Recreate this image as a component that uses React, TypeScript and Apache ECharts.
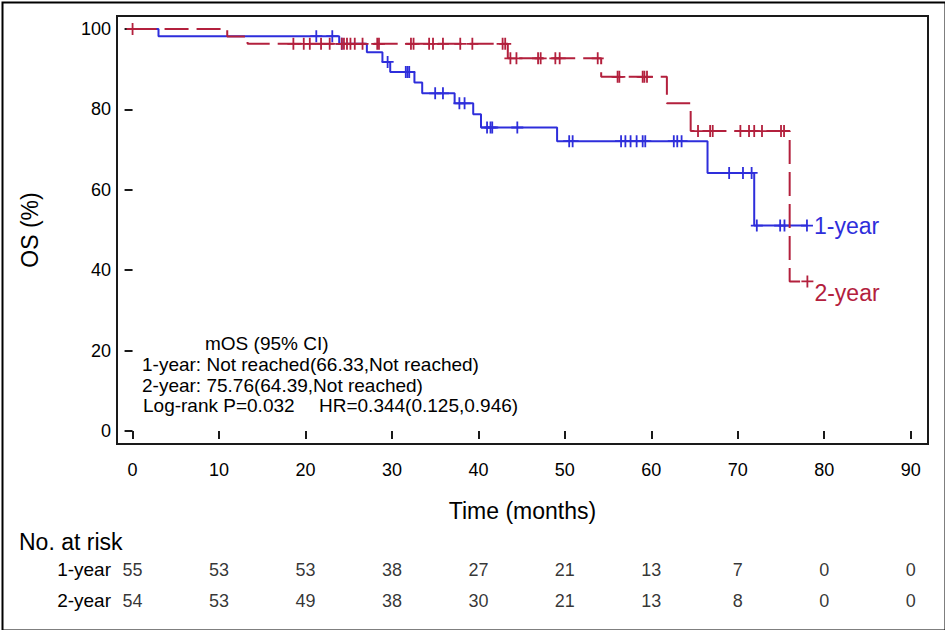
import React, { useEffect, useRef } from "react";
import * as echarts from "echarts";

// ---------- data ----------
const xTicks = [0, 10, 20, 30, 40, 50, 60, 70, 80, 90];
const yTicks = [0, 20, 40, 60, 80, 100];
const groups = ["1-year", "2-year"];

// Kaplan-Meier steps: [time, survival % after the event]
const group1Steps: [number, number][] = [
  [0, 100], [3.0, 98.2], [23.9, 96.3], [27.1, 94.2], [28.9, 91.8], [29.8, 89.3],
  [32.6, 86.7], [33.5, 84.0], [37.25, 81.5], [39.4, 78.8], [40.3, 75.5],
  [49.1, 72.1], [66.5, 64.2], [71.9, 51.1], [78.0, 51.1],
];
const group1Censor = [
  21.25, 23.1, 24.2, 29.5, 31.6, 31.8, 32.0, 35.0, 35.9, 37.8, 38.4, 41.0, 41.4,
  41.6, 44.5, 50.5, 50.9, 56.5, 57.0, 57.6, 58.3, 59.0, 59.3, 62.6, 63.0, 63.5,
  69.0, 70.6, 71.6, 72.2, 74.9, 75.4, 78.0,
];

const group2Steps: [number, number][] = [
  [0, 100], [10.95, 98.1], [13.3, 96.3], [43.4, 92.7], [54.2, 88.1],
  [61.8, 81.5], [64.55, 74.6], [76.0, 37.2], [78.05, 37.2],
];
const group2Censor = [
  0, 18.6, 19.8, 20.5, 21.8, 22.8, 24.2, 24.45, 24.8, 25.2, 25.7, 26.6, 28.3,
  28.5, 32.2, 32.5, 34.3, 34.75, 35.9, 37.9, 39.3, 42.8, 43.1, 43.7, 44.4, 46.9,
  47.2, 48.9, 49.4, 53.8, 56.1, 56.3, 59.0, 59.2, 59.5, 65.4, 66.8, 67.1, 70.3,
  71.3, 71.9, 72.8, 75.0, 75.35, 78.05,
];

const risk1 = [55, 53, 53, 38, 27, 21, 13, 7, 0, 0];
const risk2 = [54, 53, 49, 38, 30, 21, 13, 8, 0, 0];

const annotationLines = [
  "mOS (95% CI)",
  "1-year: Not reached(66.33,Not reached)",
  "2-year: 75.76(64.39,Not reached)",
  "Log-rank P=0.032",
  "HR=0.344(0.125,0.946)",
];

// ---------- helpers ----------
const BLUE = "#2E2EDB";
const RED = "#B3203D";
const FONT = "'Liberation Sans', Arial, sans-serif";
const PLUS =
  "path://M-0.9,-6H0.9V-0.9H6V0.9H0.9V6H-0.9V0.9H-6V-0.9H-0.9Z";

function survivalAt(steps: [number, number][], t: number): number {
  let v = steps[0][1];
  for (const [st, sv] of steps) {
    if (st <= t) v = sv;
    else break;
  }
  return v;
}

export default function App() {
  const ref = useRef<HTMLDivElement>(null);

  useEffect(() => {
    if (!ref.current) return;
    const chart = echarts.init(ref.current, undefined, { renderer: "svg" });

    const riskData: any[] = [];
    xTicks.forEach((t, i) => {
      riskData.push([t, groups[0], risk1[i]]);
      riskData.push([t, groups[1], risk2[i]]);
    });

    const option: any = {
      animation: false,
      backgroundColor: "#fff",
      textStyle: { fontFamily: FONT, color: "#000" },
      grid: [
        {
          left: 117, right: 17, top: 16, bottom: 186,
          show: true, borderColor: "#1a1a1a", borderWidth: 2,
          backgroundColor: "transparent",
        },
        { left: 117, right: 17, top: 554, height: 62 },
      ],
      xAxis: [
        {
          type: "value", gridIndex: 0, min: -1.8, max: 92,
          axisLine: { show: false },
          splitLine: { show: false },
          axisTick: {
            show: true, customValues: xTicks, length: 8, inside: false,
            lineStyle: { color: "#1a1a1a", width: 2 },
          },
          axisLabel: {
            customValues: xTicks, fontSize: 18, color: "#000", margin: 17,
            fontFamily: FONT,
          },
          name: "Time (months)", nameLocation: "middle", nameGap: 55,
          nameTextStyle: { fontSize: 23, color: "#000", fontFamily: FONT },
        },
        {
          type: "value", gridIndex: 1, min: -1.8, max: 92, show: false,
        },
      ],
      yAxis: [
        {
          type: "value", gridIndex: 0, min: -3.23, max: 103.23,
          axisLine: { show: false },
          splitLine: { show: false },
          axisTick: {
            show: true, customValues: yTicks, length: 8, inside: false,
            lineStyle: { color: "#1a1a1a", width: 2 },
          },
          axisLabel: {
            customValues: yTicks, fontSize: 18, color: "#000", margin: 6,
            fontFamily: FONT,
          },
          name: "OS (%)", nameLocation: "middle", nameGap: 76,
          nameTextStyle: { fontSize: 23, color: "#000", fontFamily: FONT },
        },
        {
          type: "category", gridIndex: 1, data: groups, inverse: true,
          axisLine: { show: false }, axisTick: { show: false },
          splitLine: { show: false },
          axisLabel: { fontSize: 19, color: "#000", margin: 6, fontFamily: FONT },
        },
      ],
      series: [
        {
          type: "line", name: "1-year", step: "end", data: group1Steps,
          symbol: "none", z: 2,
          lineStyle: { color: BLUE, width: 2 },
          endLabel: {
            show: true, formatter: "1-year", color: BLUE, fontSize: 23,
            distance: 7, fontFamily: FONT,
          },
        },
        {
          type: "scatter", name: "1-year censored", z: 3,
          data: group1Censor.map((t) => [t, survivalAt(group1Steps, t)]),
          symbol: PLUS, symbolSize: 12,
          itemStyle: { color: BLUE, opacity: 1 },
        },
        {
          type: "line", name: "2-year", step: "end", data: group2Steps,
          symbol: "none", z: 4,
          lineStyle: { color: RED, width: 2, type: [24, 8] },
          endLabel: {
            show: true, formatter: "2-year", color: RED, fontSize: 23,
            distance: 7, offset: [0, 12], fontFamily: FONT,
          },
        },
        {
          type: "scatter", name: "2-year censored", z: 5,
          data: group2Censor.map((t) => [t, survivalAt(group2Steps, t)]),
          symbol: PLUS, symbolSize: 12,
          itemStyle: { color: RED, opacity: 1 },
        },
        {
          type: "scatter", name: "at risk", xAxisIndex: 1, yAxisIndex: 1,
          data: riskData, symbolSize: 0, silent: true,
          label: {
            show: true, position: "inside", color: "#000", fontSize: 18,
            fontFamily: FONT,
            formatter: (p: any) => String(p.value[2]),
          },
        },
      ],
      graphic: [
        {
          type: "rect", left: 0, top: 0, silent: true,
          shape: { x: 1, y: 1, width: 943, height: 628 },
          style: { fill: "none", stroke: "#000", lineWidth: 2 },
        },
        {
          type: "text", x: 205, y: 343, silent: true,
          style: { text: annotationLines[0], fontSize: 19, fontFamily: FONT, fill: "#000", verticalAlign: "middle" },
        },
        {
          type: "text", x: 142, y: 364, silent: true,
          style: { text: annotationLines[1], fontSize: 19, fontFamily: FONT, fill: "#000", verticalAlign: "middle" },
        },
        {
          type: "text", x: 142, y: 385, silent: true,
          style: { text: annotationLines[2], fontSize: 19, fontFamily: FONT, fill: "#000", verticalAlign: "middle" },
        },
        {
          type: "text", x: 143, y: 405, silent: true,
          style: { text: annotationLines[3], fontSize: 19, fontFamily: FONT, fill: "#000", verticalAlign: "middle" },
        },
        {
          type: "text", x: 319, y: 405, silent: true,
          style: { text: annotationLines[4], fontSize: 19, fontFamily: FONT, fill: "#000", verticalAlign: "middle" },
        },
        {
          type: "text", x: 19, y: 542, silent: true,
          style: { text: "No. at risk", fontSize: 23, fontFamily: FONT, fill: "#000", verticalAlign: "middle" },
        },
      ],
    };

    chart.setOption(option);
    return () => chart.dispose();
  }, []);

  return (
    <div
      ref={ref}
      style={{ position: "absolute", left: 0, top: 0, width: 945, height: 630 }}
    />
  );
}
